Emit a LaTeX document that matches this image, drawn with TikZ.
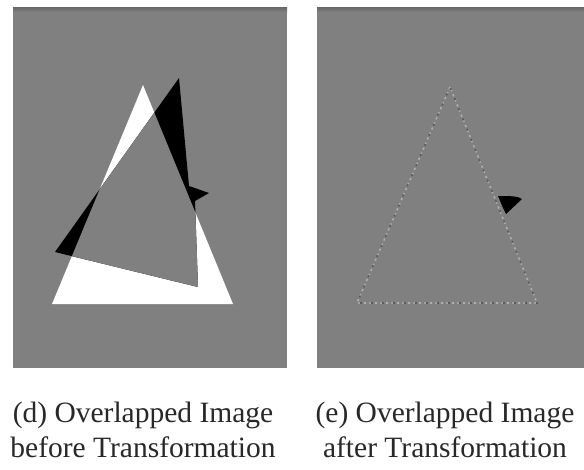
\documentclass[tikz,border=0pt]{standalone}
\usepackage{fontspec}
\setmainfont{Liberation Serif}
\begin{document}
\begin{tikzpicture}[x=1pt,y=-1pt]
  \definecolor{panelgray}{RGB}{128,128,128}
  \definecolor{edgelight}{RGB}{175,175,175}
  \definecolor{edgedark}{RGB}{90,90,90}
  \definecolor{captext}{RGB}{40,40,40}
  \tikzset{
    panel/.style={fill=panelgray},
    caption/.style={align=center, text=captext,
      font=\fontsize{29.5}{35}\selectfont, inner sep=0pt},
    lightdots/.style={draw=edgelight, line width=1.6pt,
      dash pattern=on 2.2pt off 3.3pt},
    darkdots/.style={draw=edgedark, line width=1.6pt,
      dash pattern=on 2pt off 9pt, dash phase=4pt}
  }
  \useasboundingbox (0,0) rectangle (584,469);
  \fill[white] (0,0) rectangle (584,469);

  % ---- left panel: both images overlapped without alignment ----
  \fill[panel] (13,7) rectangle (287,368);
  \shade[top color=panelgray!80!black, bottom color=panelgray]
    (13,7) rectangle (287,12);
  % reference triangle (white)
  \fill[white] (143,85) -- (52,304) -- (233,304) -- cycle;
  % moved triangle (black), with its small spur on the right edge
  \fill[black] (179,78) -- (189,186) -- (209,193) -- (195,201)
    -- (198,287) -- (55,252) -- cycle;
  % where both shapes cover the same pixels the difference is zero
  \begin{scope}
    \clip (143,85) -- (52,304) -- (233,304) -- cycle;
    \fill[panelgray] (179,78) -- (189,186) -- (209,193) -- (195,201)
      -- (198,287) -- (55,252) -- cycle;
  \end{scope}

  % ---- right panel: overlap after the transformation ----
  \fill[panel] (317,7) rectangle (584,368);
  \shade[top color=panelgray!80!black, bottom color=panelgray]
    (317,7) rectangle (584,12);
  \coordinate (ta) at (450,87);
  \coordinate (tl) at (357,303);
  \coordinate (tr) at (537,303);
  \draw[lightdots] (ta) -- (tl) -- (tr) -- cycle;
  \draw[darkdots] (ta) -- (tl) -- (tr) -- cycle;
  % residual spur
  \fill[black] (498,196) .. controls (510,196) and (518,196) .. (522,199)
    -- (506,214) .. controls (503,208) .. (498,196) -- cycle;

  % ---- captions ----
  \node[caption] (capd) at (143,430) {(d) Overlapped Image\\before Transformation};
  \node[caption] (cape) at (445,430) {(e) Overlapped Image\\after Transformation};
\end{tikzpicture}
\end{document}
